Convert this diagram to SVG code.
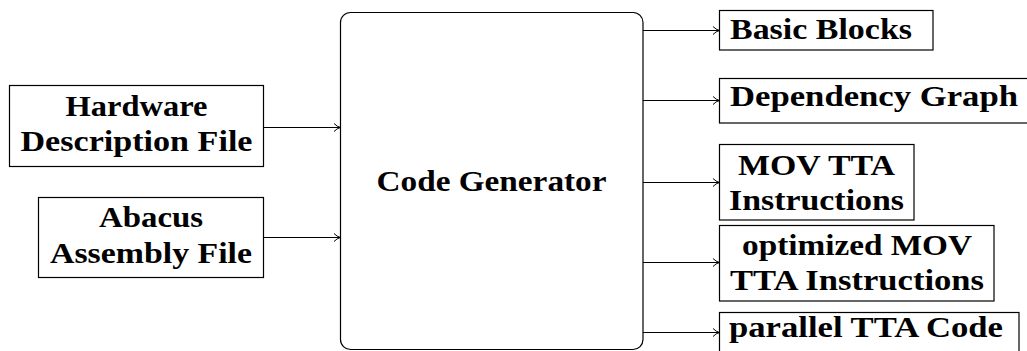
<svg xmlns="http://www.w3.org/2000/svg" width="1027" height="351" viewBox="0 0 1027 351">
  <style>
    .box { fill: #ffffff; stroke: #000000; stroke-width: 1.2; }
    .lbl { font-family: "Liberation Serif", "DejaVu Serif", serif; font-weight: bold; font-size: 28.5px; fill: #000000; }
    .mid { text-anchor: middle; }
    .wire { fill: none; stroke: #000000; stroke-width: 1.2; marker-end: url(#tip); }
  </style>
  <defs>
    <marker id="tip" viewBox="0 0 8 10" refX="7.5" refY="5" markerWidth="8" markerHeight="10" markerUnits="userSpaceOnUse" orient="auto">
      <path d="M1,1 Q4,4.2 7.5,5 Q4,5.8 1,9" fill="none" stroke="#000000" stroke-width="1"/>
    </marker>
  </defs>

  <!-- inputs -->
  <g id="hardware">
    <rect class="box" x="9.5" y="85.5" width="254" height="81"/>
    <text class="lbl mid" x="136.5" y="116" textLength="142" lengthAdjust="spacingAndGlyphs">Hardware</text>
    <text class="lbl mid" x="136.5" y="151" textLength="232" lengthAdjust="spacingAndGlyphs">Description File</text>
  </g>
  <g id="abacus">
    <rect class="box" x="38.5" y="197.5" width="225" height="80"/>
    <text class="lbl mid" x="151" y="227" textLength="104" lengthAdjust="spacingAndGlyphs">Abacus</text>
    <text class="lbl mid" x="151" y="263" textLength="202" lengthAdjust="spacingAndGlyphs">Assembly File</text>
  </g>

  <!-- central generator -->
  <g id="generator">
    <rect class="box" x="340.5" y="12.5" width="302.5" height="337" rx="10" ry="10"/>
    <text class="lbl mid" x="491.5" y="191" textLength="230" lengthAdjust="spacingAndGlyphs">Code Generator</text>
  </g>

  <!-- outputs -->
  <g id="basic-blocks">
    <rect class="box" x="719.5" y="10.5" width="213.5" height="39.5"/>
    <text class="lbl" x="730" y="39" textLength="182" lengthAdjust="spacingAndGlyphs">Basic Blocks</text>
  </g>
  <g id="dependency-graph">
    <rect class="box" x="719.5" y="78.5" width="320" height="44.5"/>
    <text class="lbl" x="730" y="106" textLength="288" lengthAdjust="spacingAndGlyphs">Dependency Graph</text>
  </g>
  <g id="mov-tta">
    <rect class="box" x="719.5" y="144.5" width="194.5" height="75.5"/>
    <text class="lbl mid" x="816.5" y="175" textLength="157" lengthAdjust="spacingAndGlyphs">MOV TTA</text>
    <text class="lbl mid" x="816.5" y="210" textLength="175" lengthAdjust="spacingAndGlyphs">Instructions</text>
  </g>
  <g id="optimized-mov">
    <rect class="box" x="719.5" y="225.5" width="274.5" height="75.5"/>
    <text class="lbl mid" x="857" y="255" textLength="230" lengthAdjust="spacingAndGlyphs">optimized MOV</text>
    <text class="lbl mid" x="857" y="290" textLength="254" lengthAdjust="spacingAndGlyphs">TTA Instructions</text>
  </g>
  <g id="parallel-tta">
    <rect class="box" x="719.5" y="312.5" width="299.5" height="60"/>
    <text class="lbl" x="729" y="337" textLength="274" lengthAdjust="spacingAndGlyphs">parallel TTA Code</text>
  </g>

  <!-- connectors -->
  <g id="connectors">
    <path class="wire" d="M263.5,127.5 H340.5"/>
    <path class="wire" d="M263.5,237.5 H340.5"/>
    <path class="wire" d="M643,30.5 H719.5"/>
    <path class="wire" d="M643,100.5 H719.5"/>
    <path class="wire" d="M643,182.5 H719.5"/>
    <path class="wire" d="M643,262.5 H719.5"/>
    <path class="wire" d="M643,332.5 H719.5"/>
  </g>
</svg>
